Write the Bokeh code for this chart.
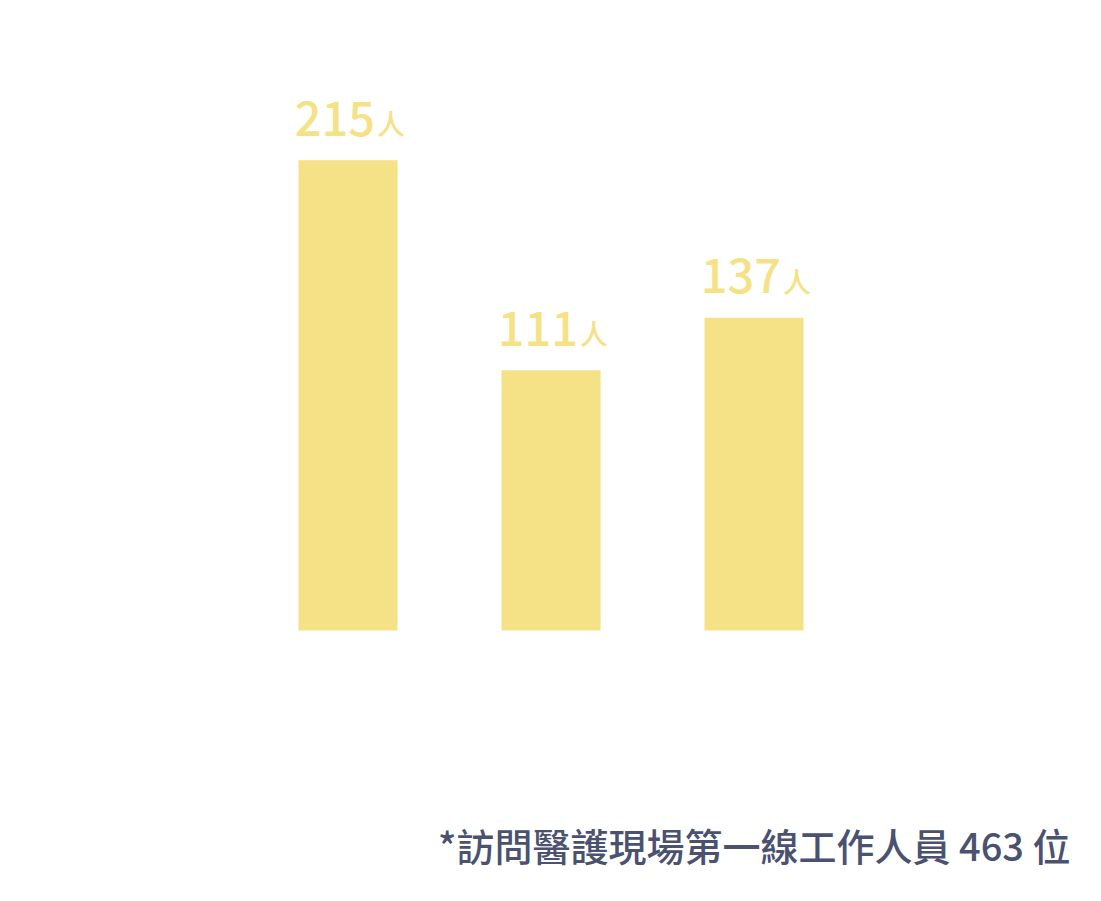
from bokeh.plotting import figure
from bokeh.models import ColumnDataSource, Range1d, Label
from bokeh.core.properties import value
from bokeh.embed import file_html
from bokeh.resources import INLINE

# ---- data ----
categories = ["group_a", "group_b", "group_c"]
counts = [215, 111, 137]
count_labels = ["215", "111", "137"]
unit_labels = ["人", "人", "人"]
footnote = "*訪問醫護現場第一線工作人員 463 位"

BAR_COLOR = "#F5E287"
NOTE_COLOR = "#4A5270"
FONT = "Noto Sans CJK TC Medium, Noto Sans CJK TC"

xs = list(range(len(categories)))
baseline = -17.8
src = ColumnDataSource(dict(x=xs, top=counts, cat=categories,
                            num=count_labels, unit=unit_labels))

p = figure(width=1085, height=885, output_backend="svg", toolbar_location=None,
           x_range=Range1d(-1.712, 3.633), y_range=Range1d(-144.1, 294.1),
           min_border=0, min_border_left=0, min_border_right=0,
           min_border_top=0, min_border_bottom=0)
p.axis.visible = False
p.grid.visible = False
p.outline_line_color = None
p.background_fill_color = "white"
p.border_fill_color = "white"

p.vbar(x="x", top="top", bottom=baseline, width=0.488, source=src,
       fill_color=BAR_COLOR, line_color=None)

p.text(x="x", y="top", text="num", source=src, text_align="right",
       text_baseline="alphabetic", x_offset=27, y_offset=-42,
       text_font=value(FONT), text_font_size="47px", text_color=BAR_COLOR,
       text_font_style="normal")
p.text(x="x", y="top", text="unit", source=src, text_align="left",
       text_baseline="alphabetic", x_offset=29, y_offset=-37,
       text_font=value(FONT), text_font_size="28px", text_color=BAR_COLOR)

note = Label(x=1070, y=41, x_units="screen", y_units="screen", text=footnote,
             text_align="right", text_baseline="alphabetic",
             text_font=FONT, text_font_size="38px", text_color=NOTE_COLOR,
             text_font_style="normal")
p.add_layout(note)

open("out.html", "w").write(file_html(p, INLINE))
